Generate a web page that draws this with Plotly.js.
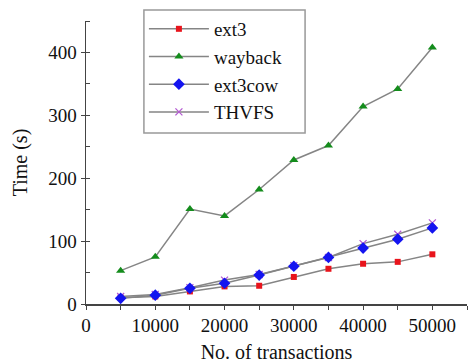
<!DOCTYPE html>
<html><head><meta charset="utf-8">
<script src="https://cdn.plot.ly/plotly-3.0.1.min.js"></script>
<style>html,body{margin:0;padding:0;background:#fff}#chart{width:468px;height:363px}</style>
</head><body><div id="chart"></div>
<script>
const transactions = [5000, 10000, 15000, 20000, 25000, 30000, 35000, 40000, 45000, 50000];
const ext3 = [10, 12, 20, 28, 29, 43, 56, 64, 67, 79];
const wayback = [53, 75, 151, 140, 182, 229, 252, 314, 342, 408];
const ext3cow = [9, 14, 25, 33, 46, 60, 74, 89, 103, 121];
const thvfs = [12, 15, 26, 38, 47, 61, 74, 96, 111, 129];
const seriesNames = ["ext3", "wayback", "ext3cow", "THVFS"];

const lineStyle = {color: "#858585", width: 1.5};
const traces = [
  {x: transactions, y: ext3, name: seriesNames[0], legendrank: 1,
   marker: {symbol: "square", size: 6, color: "#e8141c"}},
  {x: transactions, y: wayback, name: seriesNames[1], legendrank: 2,
   marker: {symbol: "triangle-up", size: 8, color: "#148c1c"}},
  {x: transactions, y: thvfs, name: seriesNames[3], legendrank: 4,
   marker: {symbol: "x-thin", size: 7, line: {color: "#b45ad2", width: 1.3}, color: "#b45ad2"}},
  {x: transactions, y: ext3cow, name: seriesNames[2], legendrank: 3,
   marker: {symbol: "diamond", size: 9, color: "#1414f0"}}
].map(t => Object.assign({type: "scatter", mode: "lines+markers", line: lineStyle}, t));

const font = {family: "Liberation Serif, Times New Roman, serif", size: 19, color: "#111"};
const titleFont = {family: "Liberation Serif, Times New Roman, serif", size: 20, color: "#111"};
const layout = {
  width: 468, height: 363,
  margin: {l: 86, r: 1, t: 21, b: 59},
  paper_bgcolor: "#fff", plot_bgcolor: "#fff",
  font: font,
  showlegend: true,
  legend: {x: 0.152, y: 1.039, xanchor: "left", yanchor: "top",
    bgcolor: "rgba(0,0,0,0)", borderwidth: 0,
    font: font, tracegroupgap: 0, itemwidth: 60},
  shapes: [{type: "rect", xref: "paper", yref: "paper", layer: "above",
    x0: 0.152, x1: 0.575, y0: 0.604, y1: 1.039,
    fillcolor: "#fff", line: {color: "#999", width: 1.5}}],
  xaxis: {range: [0, 55000], showgrid: false, zeroline: false,
    showline: true, linecolor: "#444", linewidth: 1.5,
    tickvals: [0, 10000, 20000, 30000, 40000, 50000],
    ticktext: ["0", "10000", "20000", "30000", "40000", "50000"],
    ticks: "outside", ticklen: 4, tickcolor: "#444",
    minor: {dtick: 5000, tick0: 0, ticks: "outside", ticklen: 4, tickcolor: "#444"},
    tickfont: font,
    title: {text: "No. of transactions", font: titleFont, standoff: 12}},
  yaxis: {range: [0, 450], showgrid: false, zeroline: false,
    showline: true, linecolor: "#444", linewidth: 1.5,
    tickvals: [0, 100, 200, 300, 400],
    ticks: "outside", ticklen: 4, tickcolor: "#444",
    minor: {dtick: 50, tick0: 0, ticks: "inside", ticklen: 4, tickcolor: "#444"},
    tickfont: font,
    title: {text: "Time (s)", font: titleFont, standoff: 15}}
};
Plotly.newPlot("chart", traces, layout, {displayModeBar: false, staticPlot: true});
</script></body></html>
